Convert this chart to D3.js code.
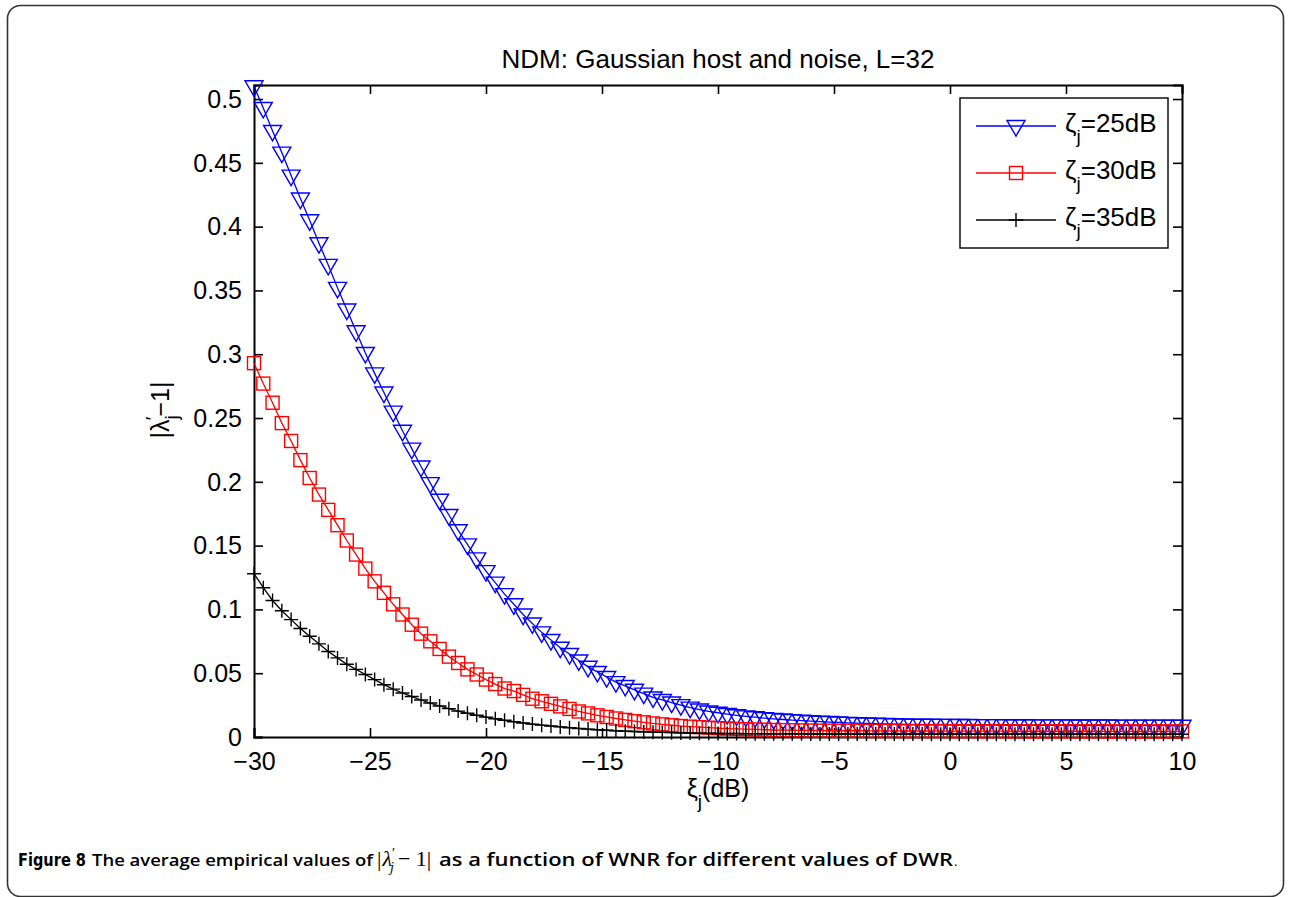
<!DOCTYPE html>
<html><head><meta charset="utf-8">
<script src="https://cdn.jsdelivr.net/npm/d3@7"></script>
<style>
html,body{margin:0;padding:0;background:#fff;}
svg{display:block;}
text{font-family:"Liberation Sans",Arial,Helvetica,sans-serif;}
</style></head>
<body>
<svg id="chart" width="1290" height="897"></svg>
<script>
// ---- data ----
const titleText = "NDM: Gaussian host and noise, L=32";
const xValues = [-30,-29.6,-29.2,-28.8,-28.4,-28,-27.6,-27.2,-26.8,-26.4,-26,-25.6,-25.2,-24.8,-24.4,-24,-23.6,-23.2,-22.8,-22.4,-22,-21.6,-21.2,-20.8,-20.4,-20,
-19.6,-19.2,-18.8,-18.4,-18,-17.6,-17.2,-16.8,-16.4,-16,-15.6,-15.2,-14.8,-14.4,-14,-13.6,-13.2,-12.8,-12.4,-12,-11.6,-11.2,-10.8,-10.4,-10,
-9.6,-9.2,-8.8,-8.4,-8,-7.6,-7.2,-6.8,-6.4,-6,-5.6,-5.2,-4.8,-4.4,-4,-3.6,-3.2,-2.8,-2.4,-2,-1.6,-1.2,-0.8,-0.4,0,
0.4,0.8,1.2,1.6,2,2.4,2.8,3.2,3.6,4,4.4,4.8,5.2,5.6,6,6.4,6.8,7.2,7.6,8,8.4,8.8,9.2,9.6,10];
const series25 = [0.510,0.493,0.475,0.458,0.440,0.422,0.405,0.387,0.370,0.352,
0.335,0.318,0.301,0.285,0.270,0.255,0.240,0.226,0.212,0.199,
0.186,0.174,0.162,0.151,0.140,0.130,0.121,0.112,0.104,0.096,
0.089,0.082,0.076,0.070,0.065,0.060,0.055,0.051,0.047,0.043,
0.040,0.037,0.034,0.031,0.029,0.027,0.025,0.023,0.0215,0.020,
0.019,0.018,0.017,0.0162,0.0155,0.0148,0.0142,0.0137,0.0132,0.0128,
0.0124,0.0120,0.0117,0.0114,0.0111,0.0108,0.0106,0.0104,0.0102,0.0100,
0.0098,0.0097,0.0096,0.0096,0.0095,0.0095,0.0094,0.0094,0.0093,0.0093,
0.0093,0.0092,0.0092,0.0092,0.0091,0.0091,0.0091,0.0091,0.0090,0.0090,
0.0090,0.0090,0.0090,0.0089,0.0089,0.0089,0.0089,0.0089,0.0089,0.0088,
0.0088];
const series30 = [0.293,0.277,0.262,0.246,0.232,0.217,0.203,0.190,0.178,0.166,
0.154,0.143,0.132,0.122,0.113,0.104,0.096,0.088,0.081,0.075,
0.069,0.063,0.058,0.053,0.049,0.045,0.0415,0.038,0.036,0.033,
0.030,0.028,0.026,0.024,0.022,0.020,0.0185,0.017,0.0157,0.0145,
0.0134,0.0124,0.0115,0.0106,0.0099,0.0092,0.0086,0.0081,0.0077,0.0073,
0.0069,0.0066,0.0063,0.0061,0.0059,0.0057,0.0055,0.0054,0.0053,0.0052,
0.0051,0.0050,0.0050,0.0049,0.0049,0.0049,0.0048,0.0048,0.0048,0.0048,
0.0047,0.0047,0.0047,0.0047,0.0047,0.0046,0.0046,0.0046,0.0046,0.0046,
0.0046,0.0046,0.0045,0.0045,0.0045,0.0045,0.0045,0.0045,0.0045,0.0045,
0.0045,0.0045,0.0044,0.0044,0.0044,0.0044,0.0044,0.0044,0.0044,0.0044,
0.0044];
const series35 = [0.128,0.117,0.107,0.099,0.092,0.085,0.079,0.073,0.067,0.062,
0.057,0.053,0.049,0.045,0.041,0.0375,0.0345,0.0317,0.029,0.0266,
0.0243,0.0222,0.0203,0.0186,0.017,0.0156,0.0143,0.0131,0.012,0.011,
0.0101,0.0093,0.0086,0.0079,0.0073,0.0067,0.0062,0.0057,0.0053,0.0049,
0.0046,0.0043,0.0040,0.0038,0.0036,0.0034,0.0032,0.0031,0.0030,0.0029,
0.0028,0.0027,0.0027,0.0026,0.0026,0.0026,0.0025,0.0025,0.0025,0.0025,
0.0024,0.0024,0.0024,0.0024,0.0024,0.0023,0.0023,0.0023,0.0023,0.0023,
0.0023,0.0023,0.0023,0.0022,0.0022,0.0022,0.0022,0.0022,0.0022,0.0022,
0.0022,0.0022,0.0022,0.0022,0.0022,0.0021,0.0021,0.0021,0.0021,0.0021,
0.0021,0.0021,0.0021,0.0021,0.0021,0.0021,0.0021,0.0021,0.0021,0.0021,
0.0021];
const legendLabels = ["25dB", "30dB", "35dB"];
const seriesColors = ["#0000ff", "#ff0000", "#000000"];
const seriesMarkers = ["triangleDown", "square", "plus"];
const xTicks = [-30, -25, -20, -15, -10, -5, 0, 5, 10];
const yTicks = [0, 0.05, 0.1, 0.15, 0.2, 0.25, 0.3, 0.35, 0.4, 0.45, 0.5];
const yTickLabels = ["0", "0.05", "0.1", "0.15", "0.2", "0.25", "0.3", "0.35", "0.4", "0.45", "0.5"];

const seriesList = [series25, series30, series35].map((vals, k) => ({
  label: legendLabels[k], color: seriesColors[k], marker: seriesMarkers[k],
  points: xValues.map((x, i) => ({x, y: vals[i]}))
}));

// ---- layout ----
const svg = d3.select("#chart");
const L = 254, R = 1182, T = 85, B = 737;
const x = d3.scaleLinear().domain([-30, 10]).range([L, R]);
const y = d3.scaleLinear().domain([0, 0.511]).range([B, T]);

// figure frame
svg.append("rect").attr("x", 7.5).attr("y", 5.5).attr("width", 1276).attr("height", 891)
  .attr("rx", 13).attr("ry", 13)
  .attr("fill", "none").attr("stroke", "#333").attr("stroke-width", 1.6);

svg.append("rect").attr("x", L).attr("y", T).attr("width", R - L).attr("height", B - T)
  .attr("fill", "#fff");

svg.append("clipPath").attr("id", "clip").append("rect")
  .attr("x", L - 20).attr("y", T - 20).attr("width", R - L + 40).attr("height", B - T + 40);

// axes with inward ticks
const fmtX = d => (d < 0 ? "\u2212" + Math.abs(d) : String(d));
const tickLen = 9;
const axB = svg.append("g").attr("transform", `translate(0,${B})`)
  .call(d3.axisBottom(x).tickValues(xTicks).tickSize(-tickLen).tickPadding(15).tickFormat(fmtX));
const axT = svg.append("g").attr("transform", `translate(0,${T})`)
  .call(d3.axisTop(x).tickValues(xTicks).tickSize(-tickLen).tickFormat(""));
const axL = svg.append("g").attr("transform", `translate(${L},0)`)
  .call(d3.axisLeft(y).tickValues(yTicks).tickSize(-tickLen).tickPadding(12).tickFormat((d, i) => yTickLabels[i]));
const axR = svg.append("g").attr("transform", `translate(${R},0)`)
  .call(d3.axisRight(y).tickValues(yTicks).tickSize(-tickLen).tickFormat(""));
[axB, axT, axL, axR].forEach(a => {
  a.select(".domain").attr("stroke", "#000").attr("stroke-width", 2);
  a.selectAll(".tick line").attr("stroke", "#000").attr("stroke-width", 1.6);
  a.selectAll(".tick text").attr("fill", "#000").style("font-size", "25px")
    .style("font-family", '"Liberation Sans",Arial,sans-serif');
});
axB.selectAll(".tick text").attr("dy", "0.71em");
axL.selectAll(".tick text").attr("dy", "0.33em");

// marker drawing
function drawMarker(g, type, color, cx, cy) {
  if (type === "triangleDown") {
    g.append("path").attr("d", `M${cx - 9},${cy - 5.5}L${cx + 9},${cy - 5.5}L${cx},${cy + 10}Z`)
      .attr("fill", "none").attr("stroke", color).attr("stroke-width", 1.4);
  } else if (type === "square") {
    g.append("rect").attr("x", cx - 6.5).attr("y", cy - 6.5).attr("width", 13).attr("height", 13)
      .attr("fill", "none").attr("stroke", color).attr("stroke-width", 1.4);
  } else {
    g.append("path").attr("d", `M${cx - 7},${cy}L${cx + 7},${cy}M${cx},${cy - 7}L${cx},${cy + 7}`)
      .attr("fill", "none").attr("stroke", color).attr("stroke-width", 1.4);
  }
}

const line = d3.line().x(d => x(d.x)).y(d => y(d.y));
const dataG = svg.append("g").attr("clip-path", "url(#clip)");
seriesList.forEach(s => {
  const g = dataG.append("g");
  g.append("path").datum(s.points).attr("d", line)
    .attr("fill", "none").attr("stroke", s.color).attr("stroke-width", 1.3);
  s.points.forEach(p => drawMarker(g, s.marker, s.color, x(p.x), y(p.y)));
});

// legend
const lg = svg.append("g");
lg.append("rect").attr("x", 960).attr("y", 98).attr("width", 208).attr("height", 150)
  .attr("fill", "#fff").attr("stroke", "#000").attr("stroke-width", 1.4);
seriesList.forEach((s, k) => {
  const ly = 126 + k * 47;
  lg.append("line").attr("x1", 976).attr("x2", 1056).attr("y1", ly).attr("y2", ly)
    .attr("stroke", s.color).attr("stroke-width", 1.3);
  drawMarker(lg, s.marker, s.color, 1016, ly);
  const t = lg.append("text").attr("x", 1065).attr("y", ly + 6).style("font-size", "26px").attr("fill", "#000");
  t.append("tspan").text("\u03B6");
  t.append("tspan").attr("dy", 11).style("font-size", "19px").text("j");
  t.append("tspan").attr("dy", -11).text("=" + s.label);
});

// title
svg.append("text").attr("x", (L + R) / 2).attr("y", 68).attr("text-anchor", "middle")
  .style("font-size", "26px").attr("fill", "#000").text(titleText);

// x label
const xl = svg.append("text").attr("x", (L + R) / 2).attr("y", 797).attr("text-anchor", "middle")
  .style("font-size", "25px").attr("fill", "#000");
xl.append("tspan").text("\u03BE");
xl.append("tspan").attr("dy", 11).style("font-size", "19px").text("j");
xl.append("tspan").attr("dy", -11).text("(dB)");

// y label
const yl = svg.append("text").attr("transform", "translate(169,410) rotate(-90)")
  .attr("text-anchor", "middle").style("font-size", "25px").attr("fill", "#000");
yl.append("tspan").text("|\u03BB");
yl.append("tspan").attr("dy", 9).style("font-size", "19px").text("j");
yl.append("tspan").attr("dx", -5).attr("dy", -19).style("font-size", "19px").text("\u2032");
yl.append("tspan").attr("dy", 10).text("\u22121|");

// caption (pieces placed to match reference widths)
const capY = 866;
svg.append("text").attr("x", 18).attr("y", capY).attr("fill", "#000")
  .style("font-size", "17px").style("font-weight", "bold")
  .style("font-family", '"DejaVu Sans Condensed","Liberation Sans Narrow",sans-serif')
  .style("font-stretch", "condensed")
  .attr("textLength", 68).attr("lengthAdjust", "spacingAndGlyphs")
  .text("Figure 8");
svg.append("text").attr("x", 92).attr("y", capY).attr("fill", "#000")
  .style("font-size", "17px").style("font-weight", "600")
  .style("font-family", '"Open Sans","Noto Sans",sans-serif')
  .attr("textLength", 281).attr("lengthAdjust", "spacingAndGlyphs")
  .text("The average empirical values of");
const m = svg.append("text").attr("x", 377).attr("y", capY).attr("fill", "#000")
  .style("font-family", '"Liberation Serif","DejaVu Serif",serif').style("font-size", "22px");
m.append("tspan").text("|");
m.append("tspan").attr("dx", 1).style("font-style", "italic").text("\u03BB");
m.append("tspan").attr("dy", -8).style("font-size", "14px").text("\u2032");
m.append("tspan").attr("dx", -5).attr("dy", 14).style("font-size", "14px").style("font-style", "italic").text("j");
m.append("tspan").attr("dx", 4).attr("dy", -6).text("\u2212 1|");
svg.append("text").attr("x", 439).attr("y", capY).attr("fill", "#000")
  .style("font-size", "17.5px").style("font-weight", "600")
  .style("font-family", '"Open Sans","Noto Sans",sans-serif')
  .attr("textLength", 514).attr("lengthAdjust", "spacingAndGlyphs")
  .text("as a function of WNR for different values of DWR");
svg.append("text").attr("x", 954).attr("y", capY).attr("fill", "#000")
  .style("font-size", "13px").style("font-family", '"Open Sans",sans-serif').text(".");
</script>
</body></html>
